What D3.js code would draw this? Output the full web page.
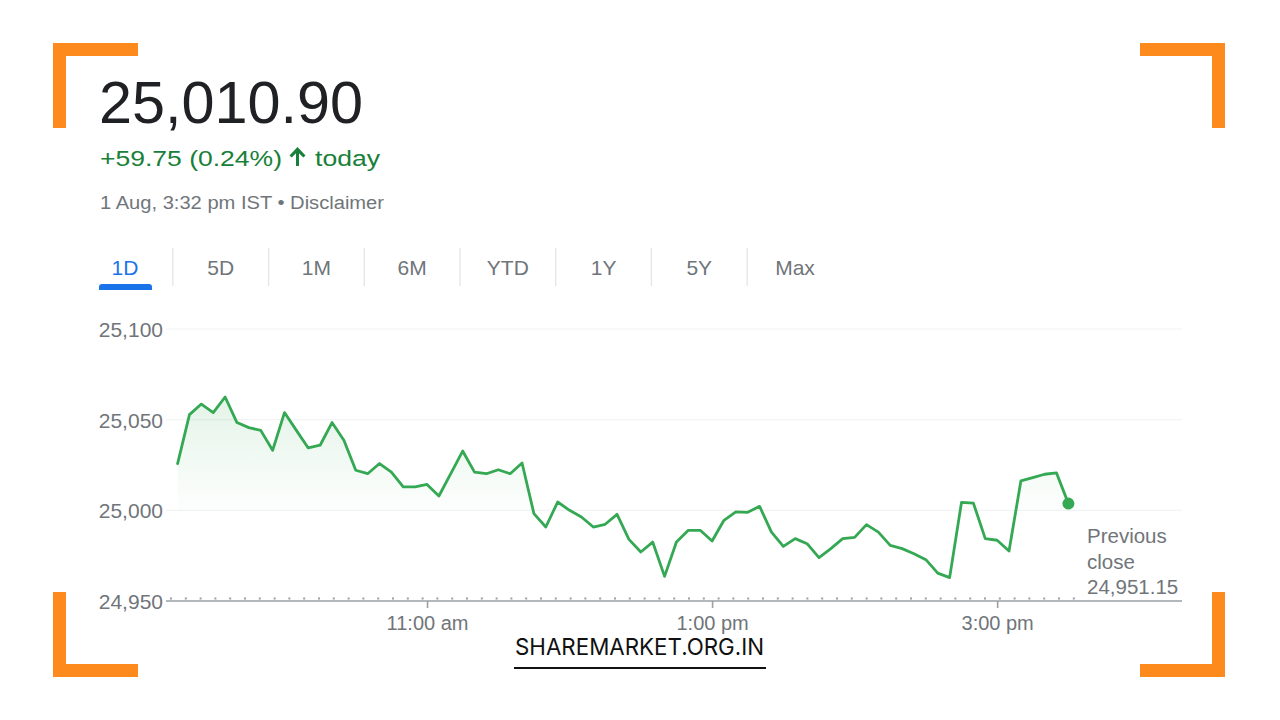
<!DOCTYPE html>
<html>
<head>
<meta charset="utf-8">
<script src="https://cdn.jsdelivr.net/npm/d3@7"></script>
<style>
  html, body { margin: 0; padding: 0; background: #ffffff; }
  svg { display: block; }
</style>
</head>
<body>
<svg id="chart" width="1280" height="720"></svg>
<script>
// ---------- data ----------
const times = ["09:15","09:20","09:25","09:30","09:35","09:40","09:45","09:50","09:55","10:00",
  "10:05","10:10","10:15","10:20","10:25","10:30","10:35","10:40","10:45","10:50",
  "10:55","11:00","11:05","11:10","11:15","11:20","11:25","11:30","11:35","11:40",
  "11:45","11:50","11:55","12:00","12:05","12:10","12:15","12:20","12:25","12:30",
  "12:35","12:40","12:45","12:50","12:55","13:00","13:05","13:10","13:15","13:20",
  "13:25","13:30","13:35","13:40","13:45","13:50","13:55","14:00","14:05","14:10",
  "14:15","14:20","14:25","14:30","14:35","14:40","14:45","14:50","14:55","15:00",
  "15:05","15:10","15:15","15:20","15:25","15:30"];
const prices = [25025.8,25052.8,25058.6,25053.9,25062.5,25048.4,25045.6,25044.1,25033.1,25053.9,
  25044.1,25034.4,25035.9,25048.4,25038.6,25022.1,25020.2,25025.8,25021.1,25012.9,
  25012.9,25014.3,25007.9,25020.2,25032.7,25021.1,25020.2,25022.4,25020.2,25026.1,
  24998.2,24990.8,25004.6,25000.0,24996.3,24990.8,24992.3,24997.8,24984.0,24977.0,
  24982.5,24963.6,24982.5,24989.0,24989.0,24983.1,24994.5,24999.1,24998.9,25002.2,
  24988.0,24980.1,24984.4,24981.6,24973.9,24978.9,24984.4,24985.1,24992.1,24988.0,
  24980.7,24978.9,24976.1,24972.8,24965.4,24962.9,25004.4,25004.0,24984.4,24983.5,
  24977.6,25016.2,25018.0,25019.9,25020.6,25003.7];
const yTicks = [24950, 25000, 25050, 25100];
const xTickTimes = ["11:00", "13:00", "15:00"];
const xTickLabels = ["11:00 am", "1:00 pm", "3:00 pm"];
const tabs = ["1D", "5D", "1M", "6M", "YTD", "1Y", "5Y", "Max"];
const previousClose = 24951.15;
const headPrice = "25,010.90";
const headChange = "+59.75 (0.24%)";
const headChangeWord = "today";
const headDate = "1 Aug, 3:32 pm IST \u2022 Disclaimer";
const prevCloseLabel = ["Previous", "close", "24,951.15"];
const watermark = "SHAREMARKET.ORG.IN";

// ---------- setup ----------
const svg = d3.select("#chart");
const FONT = "'Liberation Sans', Arial, sans-serif";
const GREEN = "#34a853";
const GREY_TEXT = "#70757a";
const ORANGE = "#fd8a1c";

const parse = d3.timeParse("%H:%M");
const data = times.map((t, i) => ({ t: parse(t), v: prices[i] }));

const plotLeft = 166, plotRight = 1182;
const x = d3.scaleTime().domain([parse("09:15"), parse("15:30")]).range([177.6, 1068.4]);
const y = d3.scaleLinear().domain([24950, 25100]).range([601, 329]);

// ---------- orange corner brackets ----------
const T = 13;
const corners = [
  `M53,43 H138 V${43+T} H${53+T} V128 H53 Z`,
  `M1225,43 H1140 V${43+T} H${1225-T} V128 H1225 Z`,
  `M53,677 H138 V${677-T} H${53+T} V592 H53 Z`,
  `M1225,677 H1140 V${677-T} H${1225-T} V592 H1225 Z`
];
svg.append("g").selectAll("path").data(corners).join("path")
  .attr("d", d => d).attr("fill", ORANGE);

// ---------- header ----------
svg.append("text").attr("x", 99).attr("y", 123)
  .attr("font-family", FONT).attr("font-size", 59).attr("fill", "#202124")
  .attr("textLength", 264).attr("lengthAdjust", "spacingAndGlyphs")
  .text(headPrice);

svg.append("text").attr("x", 100).attr("y", 166)
  .attr("font-family", FONT).attr("font-size", 22).attr("fill", "#188038")
  .attr("textLength", 182).attr("lengthAdjust", "spacingAndGlyphs")
  .text(headChange);
// arrow icon
svg.append("path")
  .attr("d", "M297.5,147 L305.5,155.5 L303.3,157.6 L299,153.3 L299,166 L296,166 L296,153.3 L291.7,157.6 L289.5,155.5 Z")
  .attr("fill", "#188038");
svg.append("text").attr("x", 315).attr("y", 166)
  .attr("font-family", FONT).attr("font-size", 22).attr("fill", "#188038")
  .attr("textLength", 65).attr("lengthAdjust", "spacingAndGlyphs")
  .text(headChangeWord);

svg.append("text").attr("x", 100).attr("y", 209)
  .attr("font-family", FONT).attr("font-size", 18).attr("fill", GREY_TEXT)
  .attr("textLength", 284).attr("lengthAdjust", "spacingAndGlyphs")
  .text(headDate);

// ---------- tabs ----------
const tabX = d3.scalePoint().domain(tabs).range([125, 795]);
const tabG = svg.append("g");
tabG.selectAll("text").data(tabs).join("text")
  .attr("x", d => tabX(d)).attr("y", 275)
  .attr("text-anchor", "middle")
  .attr("font-family", FONT).attr("font-size", 21)
  .attr("fill", (d, i) => i === 0 ? "#1a73e8" : GREY_TEXT)
  .text(d => d);
tabG.selectAll("line").data(tabs.slice(1)).join("line")
  .attr("x1", (d, i) => (tabX(tabs[i]) + tabX(d)) / 2)
  .attr("x2", (d, i) => (tabX(tabs[i]) + tabX(d)) / 2)
  .attr("y1", 248).attr("y2", 286)
  .attr("stroke", "#e3e5e8").attr("stroke-width", 1.3);
tabG.append("path")
  .attr("d", "M99,290 V287 Q99,284 102,284 H149 Q152,284 152,287 V290 Z")
  .attr("fill", "#1a73e8");

// ---------- gridlines ----------
svg.append("g").selectAll("line").data(yTicks.slice(1)).join("line")
  .attr("x1", plotLeft).attr("x2", plotRight)
  .attr("y1", d => y(d)).attr("y2", d => y(d))
  .attr("stroke", "#f1f3f4").attr("stroke-width", 1.2);

// ---------- area gradient ----------
const defs = svg.append("defs");
const grad = defs.append("linearGradient").attr("id", "areaGrad")
  .attr("gradientUnits", "userSpaceOnUse")
  .attr("x1", 0).attr("x2", 0).attr("y1", y(25065)).attr("y2", y(24995));
grad.append("stop").attr("offset", 0).attr("stop-color", GREEN).attr("stop-opacity", 0.14);
grad.append("stop").attr("offset", 1).attr("stop-color", GREEN).attr("stop-opacity", 0);

const area = d3.area().x(d => x(d.t)).y0(y(previousClose)).y1(d => y(d.v));
svg.append("path").datum(data).attr("d", area).attr("fill", "url(#areaGrad)");

// ---------- y axis labels ----------
const yAxis = d3.axisLeft(y).tickValues(yTicks).tickFormat(d3.format(",")).tickSize(0).tickPadding(0);
const yG = svg.append("g").attr("transform", "translate(163,0)").call(yAxis);
yG.select(".domain").remove();
yG.selectAll("text").attr("font-family", FONT).attr("font-size", 21).attr("fill", GREY_TEXT).attr("dy", "0.36em");

// ---------- x axis ----------
svg.append("line").attr("x1", plotLeft).attr("x2", plotRight)
  .attr("y1", y(24950)).attr("y2", y(24950))
  .attr("stroke", "#9aa0a6").attr("stroke-width", 1.6);
// previous close dotted line
svg.append("line").attr("x1", plotLeft + 4).attr("x2", 1085)
  .attr("y1", y(previousClose) - 0.5).attr("y2", y(previousClose) - 0.5)
  .attr("stroke", "#9aa0a6").attr("stroke-width", 2)
  .attr("stroke-dasharray", "2,12.8");

const xAxis = d3.axisBottom(x)
  .tickValues(xTickTimes.map(parse))
  .tickFormat((d, i) => xTickLabels[i])
  .tickSize(7).tickPadding(8);
const xG = svg.append("g").attr("transform", `translate(0,${y(24950)})`).call(xAxis);
xG.select(".domain").remove();
xG.selectAll("line").attr("stroke", "#9aa0a6").attr("stroke-width", 1.6);
xG.selectAll("text").attr("font-family", FONT).attr("font-size", 20).attr("fill", GREY_TEXT);

// ---------- line + end dot ----------
const line = d3.line().x(d => x(d.t)).y(d => y(d.v));
svg.append("path").datum(data).attr("d", line)
  .attr("fill", "none").attr("stroke", GREEN).attr("stroke-width", 2.8)
  .attr("stroke-linejoin", "round").attr("stroke-linecap", "round");
const last = data[data.length - 1];
svg.append("circle").attr("cx", x(last.t)).attr("cy", y(last.v)).attr("r", 6).attr("fill", GREEN);

// ---------- previous close label ----------
svg.append("g").selectAll("text").data(prevCloseLabel).join("text")
  .attr("x", 1087).attr("y", (d, i) => 543 + i * 25.5)
  .attr("font-family", FONT).attr("font-size", 20.5).attr("fill", GREY_TEXT)
  .text(d => d);

// ---------- watermark ----------
svg.append("text").attr("x", 515).attr("y", 655)
  .attr("font-family", "Inter, 'Open Sans', sans-serif").attr("font-size", 23).attr("fill", "#111")
  .attr("textLength", 249).attr("lengthAdjust", "spacingAndGlyphs")
  .text(watermark);
svg.append("line").attr("x1", 514).attr("x2", 766).attr("y1", 668).attr("y2", 668)
  .attr("stroke", "#111").attr("stroke-width", 2);
</script>
</body>
</html>
